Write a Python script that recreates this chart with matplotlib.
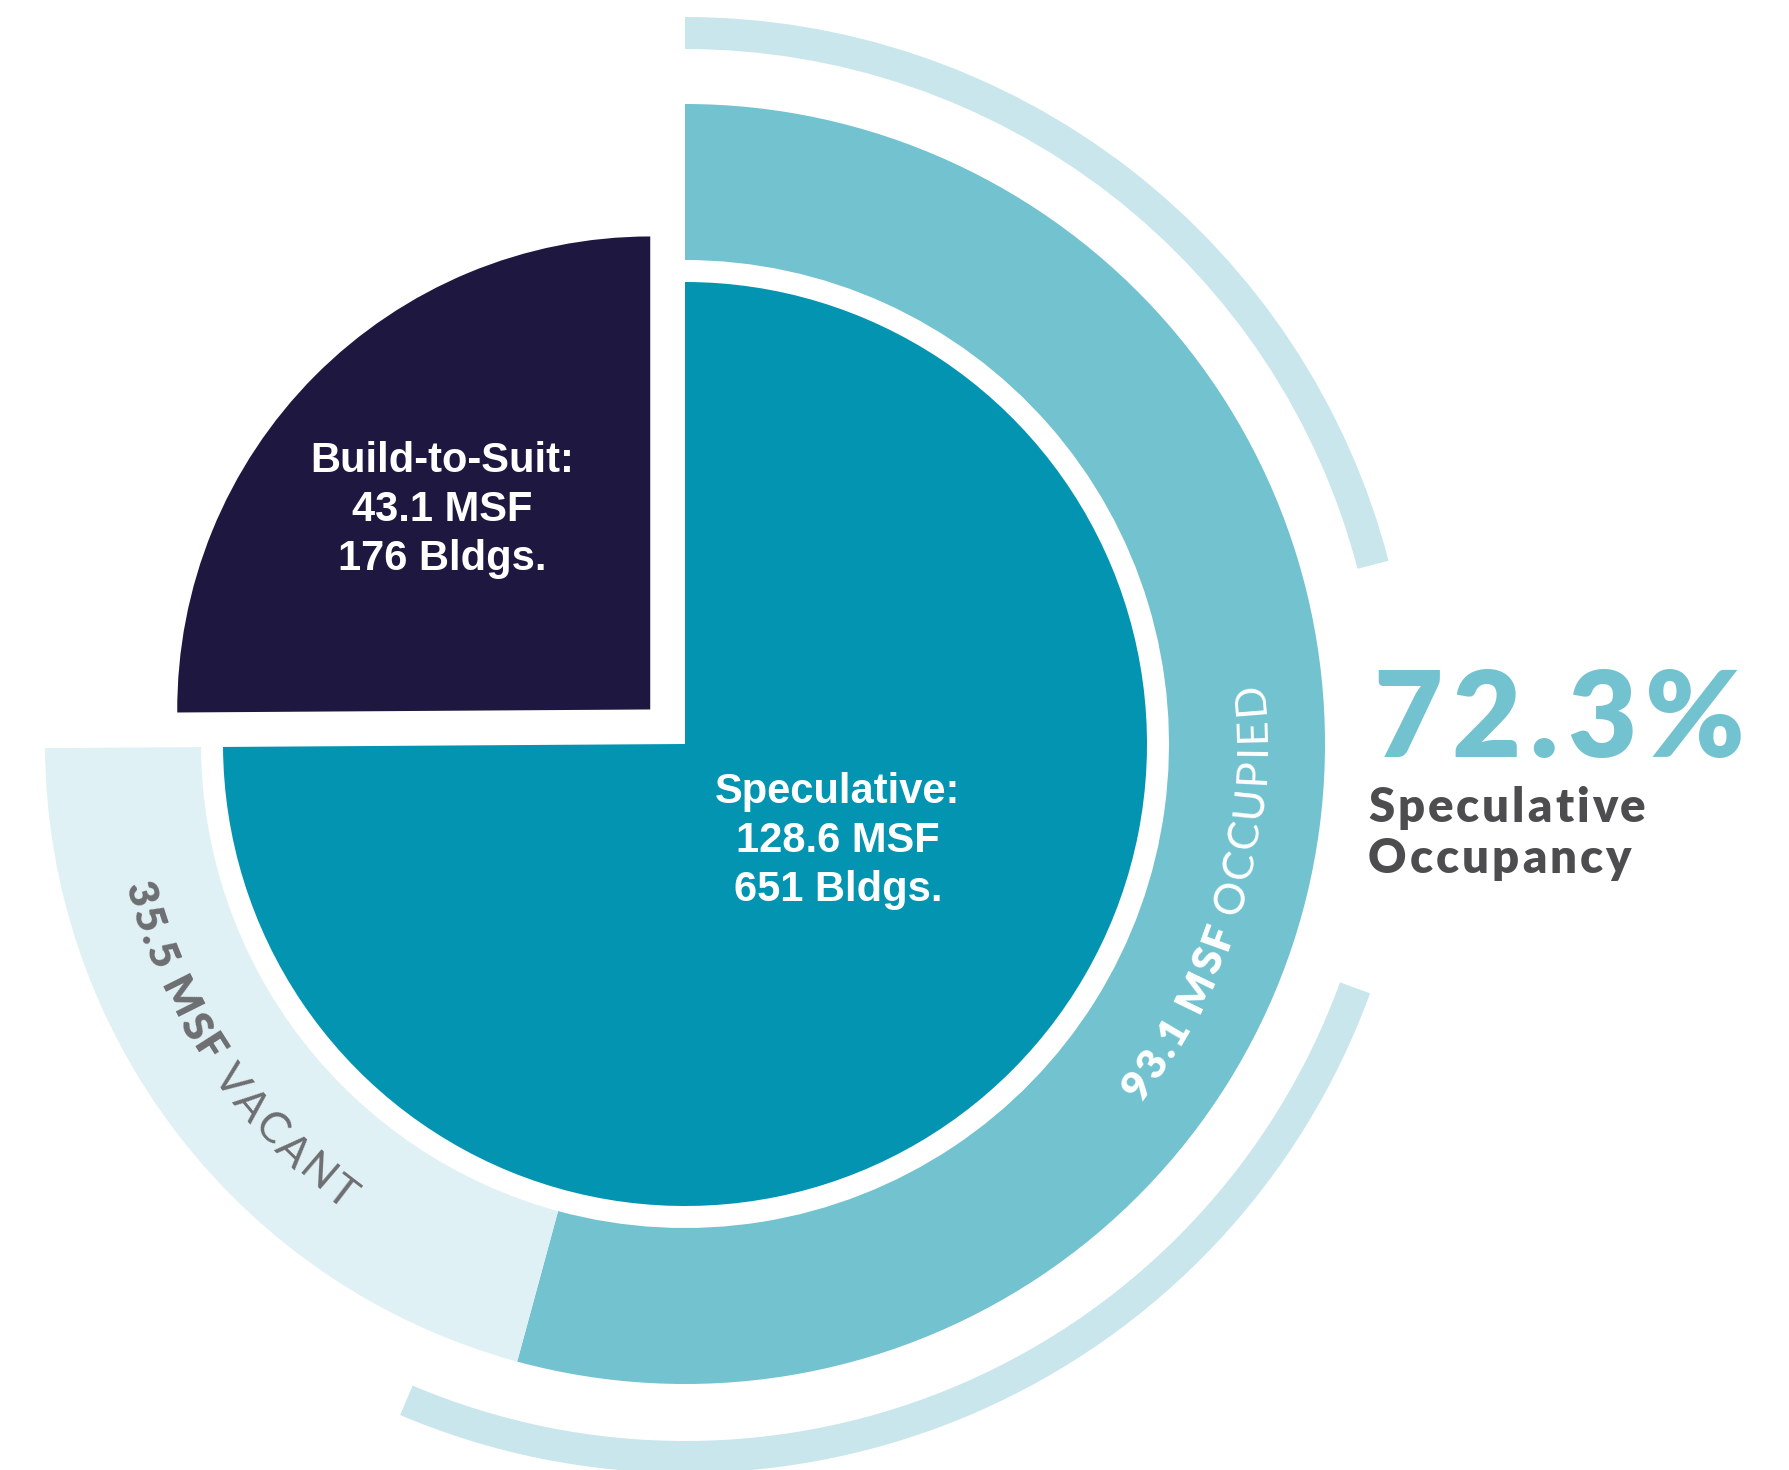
import numpy as np
import matplotlib
matplotlib.use('Agg')
import matplotlib.pyplot as plt
from matplotlib.patches import Wedge
from matplotlib.font_manager import FontProperties

# data
segments = ['Speculative', 'Build-to-Suit']
msf = [128.6, 43.1]
bldgs = [651, 176]
spec_parts = ['OCCUPIED', 'VACANT']
spec_msf = [93.1, 35.5]
occupancy = 72.3

# colours
c_spec = '#0294b0'
c_bts = '#1e1840'
c_occ = '#72c2cf'
c_vac = '#e0f1f5'
c_deco = '#c8e6eb'
c_dark = '#4d4d4f'
c_grey = '#6d6e71'

W, H = 1789, 1470
fig = plt.figure(figsize=(W / 100, H / 100), dpi=100)
ax = fig.add_axes([0, 0, 1, 1])
center = (685, 726)

# decorative outer arcs
ax.add_patch(Wedge(center, 727, 14.6, 90, width=32, color=c_deco, lw=0))
ax.add_patch(Wedge(center, 729, -113, -20, width=32, color=c_deco, lw=0))

# outer ring: occupied / vacant part of speculative
ax.pie(spec_msf + [msf[1]], colors=[c_occ, c_vac, 'none'], radius=640,
       center=center, startangle=90, counterclock=False,
       wedgeprops=dict(width=156, linewidth=0))

# inner pie: speculative
ax.pie(msf, colors=[c_spec, 'none'], radius=462, center=center,
       startangle=90, counterclock=False, wedgeprops=dict(linewidth=0))
# build-to-suit, pulled out
ax.pie(msf, colors=['none', c_bts], radius=473, center=center,
       startangle=90, counterclock=False, explode=[0, 49],
       wedgeprops=dict(linewidth=0))

ax.set_xlim(0, W)
ax.set_ylim(0, H)
ax.set_aspect('auto')
ax.axis('off')

renderer = fig.canvas.get_renderer()


def tw(s, fp):
    return renderer.get_text_width_height_descent(s, fp, ismath=False)[0]


def layout(parts, track):
    chars = []
    pos = 0.0
    for k, (s, fp, color) in enumerate(parts):
        if k:
            pos += tw('a a', fp) - tw('aa', fp) + track
        for i, ch in enumerate(s):
            if ch == ' ':
                continue
            w_end = tw(s[:i + 1], fp) + track * i
            chars.append((ch, fp, color, pos + w_end - tw(ch, fp) / 2))
        pos += tw(s, fp) + track * (len(s) - 1)
    return chars, pos


def tracked_text(x, y, s, fp, color, track):
    chars, _ = layout([(s, fp, color)], track)
    for ch, f, col, p in chars:
        ax.text(x + p, y, ch, fontproperties=f, color=col,
                ha='center', va='baseline')


def arc_text(parts, r_mid, r_base, theta_mid, track=0):
    chars, total = layout(parts, track)
    start = np.radians(theta_mid) - total / (2 * r_mid)
    for ch, f, col, p in chars:
        t = start + p / r_mid
        ax.text(center[0] + r_base * np.cos(t), center[1] + r_base * np.sin(t),
                ch, fontproperties=f, color=col, rotation=np.degrees(t) + 90,
                rotation_mode='anchor', ha='center', va='baseline')


# labels inside the pie
fp_in = FontProperties(family='Liberation Sans', weight='bold', size=30)


def block(x, y_mid, lines, spacing=49):
    n = len(lines)
    for i, line in enumerate(lines):
        y = y_mid - 15 + (n // 2 - i) * spacing
        ax.text(x, y, line, fontproperties=fp_in, color='white',
                ha='center', va='baseline')


block(442, 964, [f'{segments[1]}:', f'{msf[1]} MSF', f'{bldgs[1]} Bldgs.'])
block(838, 633, [f'{segments[0]}:', f'{msf[0]} MSF', f'{bldgs[0]} Bldgs.'])

# ring labels along the arc
fp_b = FontProperties(family='Lato', weight='heavy', size=30)
fp_l = FontProperties(family='Lato', weight='normal', size=31)
arc_text([(f'{spec_msf[0]} MSF', fp_b, 'white'), (spec_parts[0], fp_l, 'white')],
         565, 580, -16, track=2)
arc_text([(f'{spec_msf[1]} MSF', fp_b, c_grey), (spec_parts[1], fp_l, c_grey)],
         563, 578, 214, track=2)

# occupancy callout
fp_big = FontProperties(family='Lato', weight='heavy', size=86)
fp_sub = FontProperties(family='Lato', weight='heavy', size=34)
tracked_text(1373, 713, f'{occupancy}%', fp_big, c_occ, 9)
tracked_text(1368, 648, 'Speculative', fp_sub, c_dark, 3)
tracked_text(1368, 597, 'Occupancy', fp_sub, c_dark, 3)

fig.savefig('out.png', dpi=100, facecolor='white')
